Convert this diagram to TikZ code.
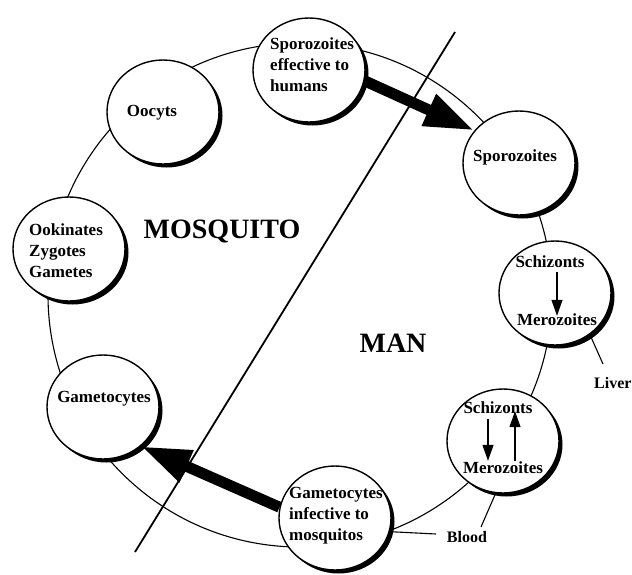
\documentclass[tikz,border=0pt]{standalone}
\usepackage{fontspec}
\setmainfont{Liberation Serif}
\usetikzlibrary{arrows.meta,shapes.geometric,shadows}
\begin{document}
\begin{tikzpicture}[x=1pt,y=-1pt,
  stage/.style={ellipse, draw, line width=1.4pt, fill=white, minimum width=112pt, minimum height=104pt, inner sep=0pt,
    drop shadow={shadow xshift=3.5pt, shadow yshift=-3.5pt, fill=black, opacity=1}},
  lbl/.style={font=\bfseries\fontsize{17}{21}\selectfont, inner sep=1pt},
  lbll/.style={lbl, align=left, anchor=west},
  region/.style={font=\bfseries\fontsize{28}{32}\selectfont, inner sep=1pt},
  tag/.style={font=\bfseries\fontsize{16}{19}\selectfont, inner sep=1pt},
  ring/.style={line width=1.1pt},
  divider/.style={line width=1.8pt},
  lead/.style={line width=1.1pt},
  fat/.style={line width=11pt, -{Triangle[length=50pt,width=32pt]}},
  thin/.style={line width=1.1pt, -{Triangle[length=16pt,width=11pt]}},
]
\useasboundingbox (0,0) rectangle (632,574);
\fill[white] (0,0) rectangle (632,574);
% cycle ring and dividing line
\coordinate (rc) at (300,295);
\draw[ring] (rc) circle[radius=252pt];
\coordinate (dv1) at (455,32);
\coordinate (dv2) at (135,552);
\draw[divider] (dv1) -- (dv2);
% stage circles
\node[stage] (spe) at (309,70) {};
\node[stage] (ooc) at (163,112) {};
\node[stage] (ook) at (69,249) {};
\node[stage] (gam) at (103,407) {};
\node[stage] (gin) at (335,518) {};
\node[stage] (bsm) at (503,441) {};
\node[stage] (lsm) at (555,293) {};
\node[stage] (spr) at (519,163) {};
% labels
\node[lbll] (speT) at (269,65) {Sporozoites\\effective to\\humans};
\node[lbl] (oocT) at (152,113) {Oocyts};
\node[lbll] (ookT) at (28,251) {Ookinates\\Zygotes\\Gametes};
\node[lbl] (gamT) at (104,399) {Gametocytes};
\node[lbll] (ginT) at (288,516) {Gametocytes\\infective to\\mosquitos};
\node[lbl] (bsS) at (498,408) {Schizonts};
\node[lbl] (bsM) at (503,468) {Merozoites};
\node[lbl] (lsS) at (550,262) {Schizonts};
\node[lbl] (lsM) at (557,320) {Merozoites};
\node[lbl] (sprT) at (515,157) {Sporozoites};
\node[region] (mosq) at (222,231) {MOSQUITO};
\node[region] (man) at (393,343) {MAN};
\node[tag, anchor=west] (liver) at (593,383) {Liver};
\node[tag] (blood) at (467,537) {Blood};
% leader lines
\coordinate (lvend) at (603,364);
\draw[lead] (lsm.-50) -- (lvend);
\coordinate (bl1) at (436,534);
\draw[lead] (gin.-14) -- (bl1);
\coordinate (bl2) at (481,527);
\draw[lead] (bsm.-98) -- (bl2);
% transitions
\draw[fat] (spe.-11) -- (spr.144);
\draw[fat] (gin.169) -- (gam.-46);
\draw[thin, shorten <=3pt, shorten >=-3pt] ([xshift=7pt]lsS.south) -- (lsM.north);
\draw[thin, shorten <=4pt] ([xshift=-10pt]bsS.south) -- ([xshift=-15pt]bsM.north);
\draw[thin, shorten >=-4pt] ([xshift=12pt]bsM.north) -- ([xshift=17pt]bsS.south);
\end{tikzpicture}
\end{document}
